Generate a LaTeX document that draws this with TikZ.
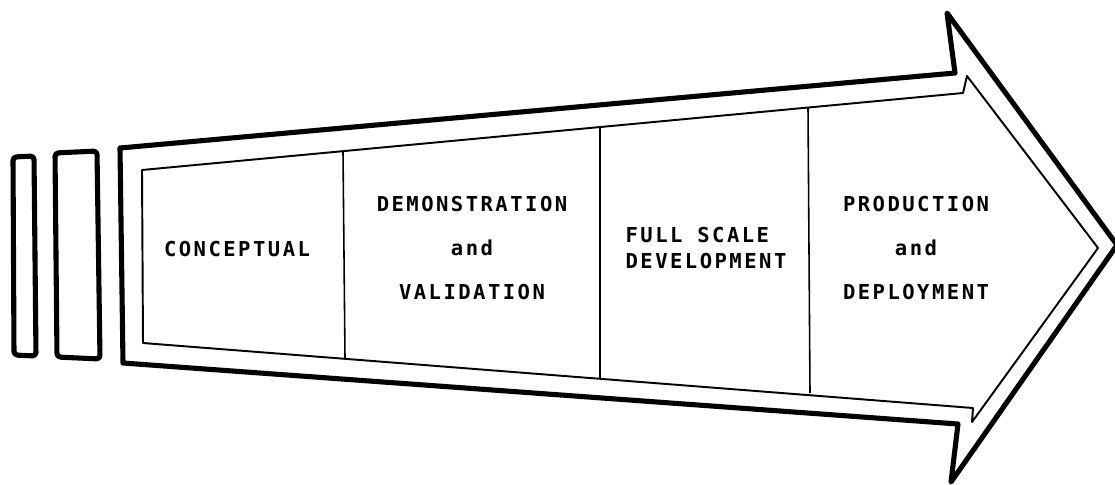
\documentclass[tikz,border=0pt]{standalone}
\usepackage{fontspec}
\setmonofont[LetterSpace=12]{DejaVu Sans Mono}

\tikzset{
	heavy/.style={line width=2.9pt, line join=round},
	light/.style={line width=1.1pt, line join=round},
	divider/.style={line width=0.9pt},
	phase/.style={inner sep=0pt, align=center,
		font=\ttfamily\bfseries\fontsize{11.7}{25}\selectfont}
}

\begin{document}
\begin{tikzpicture}[x=0.02cm, y=-0.02cm]

\useasboundingbox (0,0) rectangle (1115,484);

% Two small bars in front of the arrow
\draw[heavy, rounded corners=2pt] (13,157) -- (34,156) -- (36,356) -- (14,355) -- cycle;
\draw[heavy, rounded corners=2pt] (55,153) -- (97,151) -- (100,359) -- (57,357) -- cycle;

% Outer arrow
\coordinate (otl) at (120,148);
\coordinate (otr) at (955,73);
\coordinate (obt) at (947,13);
\coordinate (tip) at (1117,245);
\coordinate (obb) at (951,482);
\coordinate (obr) at (958,424);
\coordinate (obl) at (123,363);

\draw[heavy] (otl) -- (otr) -- (obt) -- (tip) -- (obb) -- (obr) -- (obl) -- cycle;

% Inner arrow
\coordinate (itl) at (142,170);
\coordinate (itr) at (963,93);
\coordinate (ibt) at (967,76);
\coordinate (itip) at (1098,248);
\coordinate (ibb) at (972,422);
\coordinate (ibr) at (973,408);
\coordinate (ibl) at (143,343);

\draw[light] (itl) -- (itr) -- (ibt) -- (itip) -- (ibb) -- (ibr) -- (ibl) -- cycle;

% Dividers between the phases
\draw[divider] (343,152) -- (345,358);
\draw[divider] (600,127) -- (600,378);
\draw[divider] (808,108) -- (810,393);

% Phase labels
\node[phase] (conceptual) at (237,249) {CONCEPTUAL};

\node[phase] (demval) at (472,248) {DEMONSTRATION\\and\\VALIDATION};

\node[phase,
	align=left,
	font=\ttfamily\bfseries\fontsize{11.7}{15.3}\selectfont
] (fsd) at (706,248) {FULL SCALE\\DEVELOPMENT};

\node[phase] (proddep) at (916,248) {PRODUCTION\\and\\DEPLOYMENT};

\end{tikzpicture}
\end{document}
